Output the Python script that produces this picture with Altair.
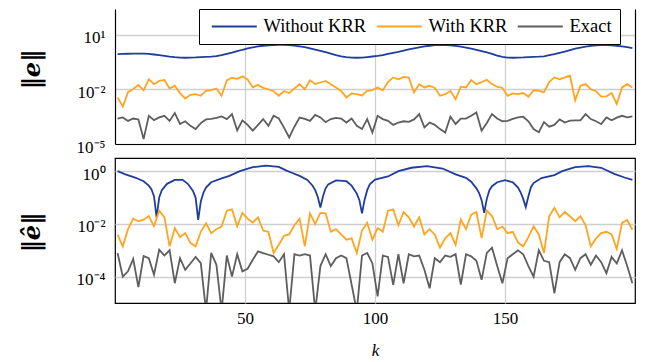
import altair as alt
import pandas as pd

FONT = "Liberation Serif"
SERIES = ["Without KRR", "With KRR", "Exact"]
COLORS = ["#1f3e9c", "#ffa51f", "#5e5e5e"]

# k = 1, 3, 5, ..., 199
K_ODD = list(range(1, 200, 2))

# ---- top panel, log10 of ||e|| ----
top_without = [
    -0.06, -0.05, -0.04, -0.03, -0.03, -0.03, -0.05, -0.08, -0.12, -0.16,
    -0.20, -0.23, -0.25, -0.26, -0.25, -0.24, -0.22, -0.21, -0.20, -0.17,
    -0.12, -0.05, 0.02, 0.10, 0.18, 0.25, 0.31, 0.36, 0.40, 0.42,
    0.44, 0.45, 0.45, 0.44, 0.41, 0.37, 0.32, 0.26, 0.19, 0.12,
    0.05, -0.03, -0.11, -0.18, -0.23, -0.25, -0.26, -0.25, -0.22, -0.19,
    -0.16, -0.11, -0.05, 0.01, 0.06, 0.13, 0.20, 0.26, 0.31, 0.36,
    0.40, 0.43, 0.44, 0.44, 0.42, 0.39, 0.35, 0.30, 0.24, 0.18,
    0.11, 0.03, -0.05, -0.14, -0.21, -0.25, -0.26, -0.25, -0.24, -0.22,
    -0.21, -0.20, -0.18, -0.12, -0.06, 0.01, 0.08, 0.16, 0.24, 0.30,
    0.35, 0.39, 0.42, 0.43, 0.43, 0.42, 0.40, 0.36, 0.32, 0.27,
]
top_with = [
    -2.44, -2.95, -2.15, -1.98, -1.75, -2.05, -1.44, -1.71, -1.53, -1.48,
    -1.95, -1.80, -2.20, -2.50, -2.30, -2.26, -2.35, -2.08, -2.04, -1.95,
    -2.35, -1.50, -1.36, -1.42, -1.28, -1.45, -1.89, -1.75, -1.92, -1.99,
    -2.10, -2.35, -2.10, -2.20, -1.95, -1.71, -1.99, -1.50, -1.70, -1.62,
    -1.53, -1.71, -1.89, -2.10, -2.44, -2.22, -2.26, -2.33, -2.08, -2.04,
    -1.89, -2.05, -1.60, -1.34, -1.44, -1.31, -1.35, -2.17, -1.71, -1.89,
    -1.80, -1.92, -2.35, -2.26, -2.08, -2.54, -1.85, -1.89, -1.49, -1.71,
    -1.60, -1.47, -1.70, -1.85, -1.92, -2.35, -2.22, -2.26, -2.20, -2.40,
    -2.04, -2.08, -2.15, -1.60, -1.34, -1.44, -1.34, -1.25, -2.60, -1.80,
    -1.71, -1.99, -2.10, -2.40, -2.38, -2.20, -2.80, -1.89, -1.71, -1.89,
]
top_exact = [
    -3.60, -3.54, -3.73, -3.60, -3.65, -4.73, -3.45, -3.69, -3.54, -3.45,
    -3.73, -3.30, -3.90, -3.75, -4.00, -4.18, -3.85, -3.65, -3.62, -3.56,
    -3.48, -3.63, -3.36, -4.25, -3.70, -3.95, -4.27, -3.95, -3.63, -4.00,
    -3.45, -3.60, -4.10, -4.64, -4.05, -3.55, -3.62, -3.73, -3.40, -3.54,
    -3.80, -3.63, -3.56, -3.60, -3.82, -3.60, -4.00, -4.18, -3.63, -4.37,
    -3.45, -3.63, -3.73, -3.95, -3.82, -3.75, -3.78, -3.65, -3.36, -4.09,
    -3.82, -3.95, -4.18, -4.37, -3.50, -3.90, -3.60, -3.60, -3.45, -3.27,
    -4.27, -3.85, -3.36, -3.60, -3.75, -3.73, -3.62, -3.54, -3.50, -3.75,
    -4.18, -4.35, -3.80, -4.05, -3.95, -3.65, -3.82, -3.72, -3.70, -3.70,
    -3.36, -3.63, -3.75, -3.91, -3.54, -3.70, -3.55, -3.45, -3.54, -3.48,
]

# ---- bottom panel, log10 of ||e_hat|| ----
bot_without_k = [
    1, 4, 8, 11, 13, 14, 15, 16, 17, 18, 20, 23, 26, 28, 30, 31, 32, 33, 34, 35,
    37, 41, 44, 48, 53, 58, 63, 66, 68, 71, 74, 76, 77, 78, 79, 80, 81, 82, 85, 89,
    91, 93, 94, 95, 96, 97, 98, 100, 105, 109, 114, 120, 126, 131, 135, 137, 139, 140, 141, 142,
    143, 144, 145, 147, 150, 153, 155, 156, 157, 158, 159, 160, 161, 164, 169, 172, 177, 182, 187, 192,
    196, 199,
]
bot_without = [
    0.00, -0.12, -0.25, -0.38, -0.55, -0.68, -0.95, -1.75, -1.00, -0.72, -0.48, -0.33, -0.33, -0.48, -0.75, -1.00, -1.85, -1.15, -0.82, -0.62,
    -0.42, -0.27, -0.18, 0.00, 0.15, 0.21, 0.16, 0.02, -0.06, -0.18, -0.33, -0.55, -0.72, -0.98, -1.38, -0.95, -0.65, -0.50, -0.35, -0.38,
    -0.55, -0.85, -1.10, -1.60, -1.08, -0.72, -0.50, -0.32, -0.20, 0.00, 0.13, 0.19, 0.10, -0.12, -0.25, -0.40, -0.65, -0.82, -1.10, -1.58,
    -1.05, -0.72, -0.57, -0.42, -0.34, -0.42, -0.62, -0.80, -1.05, -1.36, -0.95, -0.60, -0.45, -0.26, -0.15, 0.00, 0.15, 0.19, 0.13, -0.10,
    -0.24, -0.33,
]
bot_with = [
    -2.41, -2.85, -2.20, -1.80, -1.90, -1.84, -1.70, -2.09, -1.50, -1.75,
    -2.85, -2.16, -2.50, -2.35, -2.72, -2.85, -2.30, -1.98, -2.35, -2.20,
    -2.10, -1.50, -1.45, -2.09, -1.58, -1.80, -1.95, -1.75, -2.25, -2.30,
    -3.10, -2.79, -2.45, -2.40, -2.05, -1.80, -2.85, -1.60, -2.00, -1.58,
    -1.60, -2.30, -2.20, -2.40, -2.60, -2.55, -3.11, -2.25, -1.96, -2.60,
    -2.16, -2.30, -1.50, -1.45, -2.05, -1.55, -1.75, -2.10, -1.75, -2.40,
    -2.20, -2.41, -2.90, -2.55, -2.35, -2.79, -1.84, -2.20, -1.65, -1.55,
    -2.54, -1.50, -1.70, -2.20, -2.10, -2.35, -2.30, -2.70, -2.85, -2.50,
    -2.09, -2.40, -3.10, -1.71, -1.39, -1.75, -1.55, -1.71, -1.90, -1.71,
    -2.05, -2.85, -2.55, -2.35, -2.30, -2.40, -2.95, -1.96, -1.85, -2.22,
]
bot_exact = [
    -3.11, -4.00, -3.80, -3.33, -4.40, -3.22, -3.30, -3.93, -2.98, -3.20,
    -3.00, -4.25, -3.30, -3.74, -3.50, -3.25, -3.49, -5.30, -3.10, -3.55,
    -5.30, -3.20, -4.00, -3.15, -3.80, -3.70, -3.36, -3.04, -3.11, -3.17,
    -3.23, -3.45, -3.15, -5.30, -3.15, -3.20, -3.15, -3.20, -5.30, -3.60,
    -3.15, -3.60, -3.30, -3.20, -3.30, -4.30, -5.30, -3.20, -3.10, -3.50,
    -4.75, -3.20, -3.25, -4.31, -3.15, -4.25, -3.15, -3.23, -3.20, -3.74,
    -4.44, -3.30, -3.45, -3.20, -3.25, -3.15, -4.30, -3.15, -3.23, -3.40,
    -4.12, -3.10, -2.90, -3.60, -4.25, -3.30, -3.15, -3.00, -3.15, -3.60,
    -4.00, -3.00, -3.40, -3.45, -4.63, -3.45, -3.15, -3.30, -3.74, -3.30,
    -3.15, -3.55, -3.20, -3.45, -3.87, -3.25, -3.50, -3.00, -3.60, -4.25,
]


def long_df(parts):
    rows = []
    for name, ks, vals in parts:
        for k, v in zip(ks, vals):
            rows.append({"k": k, "series": name, "value": 10 ** v})
    return pd.DataFrame(rows)


top_df = long_df([
    ("Without KRR", K_ODD, top_without),
    ("With KRR", K_ODD, top_with),
    ("Exact", K_ODD, top_exact),
])
bot_df = long_df([
    ("Without KRR", bot_without_k, bot_without),
    ("With KRR", K_ODD, bot_with),
    ("Exact", K_ODD, bot_exact),
])

W = 520
GRID = "#cfcfcf"
TITLE_FONT = "DejaVu Serif"
xscale = alt.Scale(domain=[0, 200], nice=False, zero=False)
color_scale = alt.Scale(domain=SERIES, range=COLORS)

top_x_axis = alt.Axis(values=[50, 100, 150], labels=False, ticks=False, title=None,
                      grid=True, gridColor=GRID, gridWidth=1.3,
                      domain=True, domainColor="black", domainWidth=1.2)
top_yscale = alt.Scale(type="log", domain=[1e-5, 10 ** 2.42], nice=False)

top_lines = alt.Chart(top_df).mark_line(strokeWidth=1.8, clip=True).encode(
    x=alt.X("k:Q", scale=xscale, axis=top_x_axis),
    y=alt.Y("value:Q", scale=top_yscale, axis=alt.Axis(
        values=[10, 0.01, 1e-5],
        labelExpr="datum.value >= 1 ? '10¹' : (datum.value >= 0.001 ? '10⁻²' : '10⁻⁵')",
        title="‖e‖", titleX=-83, titleY=60, titleAngle=270, titleAlign="center",
        titleBaseline="middle", titleFont=TITLE_FONT, titleFontSize=24,
        titleFontStyle="italic", titleFontWeight="bold",
        ticks=False, grid=True, gridColor=GRID, gridWidth=1.3,
        domain=True, domainColor="black", domainWidth=1.2,
        labelPadding=10, labelFontSize=17, labelFlush=False, labelOverlap=False, labelOffset=3)),
    color=alt.Color("series:N", scale=color_scale, legend=alt.Legend(
        orient="none", legendX=84, legendY=0, direction="horizontal", title=None,
        symbolType="M-1,0H9", symbolSize=81, symbolStrokeWidth=2,
        labelFont=FONT, labelFontSize=18.5, labelColor="black", labelOffset=38,
        columnPadding=5, padding=8, strokeColor="black", fillColor="white", cornerRadius=0)),
)
top_border = alt.Chart(top_df).mark_line(opacity=0).encode(
    x=alt.X("k:Q", scale=xscale, axis=top_x_axis),
    y=alt.Y("value:Q", scale=top_yscale, axis=alt.Axis(
        orient="right", labels=False, ticks=False, grid=False, title=None,
        domain=True, domainColor="black", domainWidth=1.2)),
)
top = alt.layer(top_lines, top_border).resolve_axis(y="independent").properties(
    width=W, height=135, view=alt.ViewBackground(stroke=None))

bottom = alt.Chart(bot_df).mark_line(strokeWidth=1.8, clip=True).encode(
    x=alt.X("k:Q", scale=xscale, axis=alt.Axis(
        values=[50, 100, 150], ticks=False, grid=True, gridColor=GRID, gridWidth=1.3,
        domain=False, labelFontSize=17, labelPadding=7, labelFlush=False,
        title="k", titleX=260, titleY=47, titleBaseline="middle", titleFontSize=17,
        titleFontStyle="italic", titleFontWeight="normal")),
    y=alt.Y("value:Q", scale=alt.Scale(type="log", domain=[1e-5, 10 ** 0.5], nice=False), axis=alt.Axis(
        values=[1, 0.01, 1e-4],
        labelExpr="datum.value >= 0.5 ? '10⁰' : (datum.value >= 0.001 ? '10⁻²' : '10⁻⁴')",
        title="‖ê‖", titleX=-83, titleY=74, titleAngle=270, titleAlign="center",
        titleBaseline="middle", titleFont=TITLE_FONT, titleFontSize=24,
        titleFontStyle="italic", titleFontWeight="bold",
        ticks=False, grid=True, gridColor=GRID, gridWidth=1.3, domain=False,
        labelPadding=10, labelFontSize=17, labelFlush=False, labelOverlap=False, labelOffset=3)),
    color=alt.Color("series:N", scale=color_scale, legend=None),
).properties(width=W, height=145)

chart = alt.vconcat(top, bottom, spacing=14, bounds="flush").resolve_legend(color="independent").properties(
    padding={"left": 11, "top": 0, "right": 4, "bottom": 0}
).configure(font=FONT).configure_view(stroke="black", strokeWidth=1.2).configure_axis(
    labelColor="black", titleColor="black", labelFont=FONT, titleFont=FONT)

chart.save("out.html", embed_options={"renderer": "svg", "actions": False})
